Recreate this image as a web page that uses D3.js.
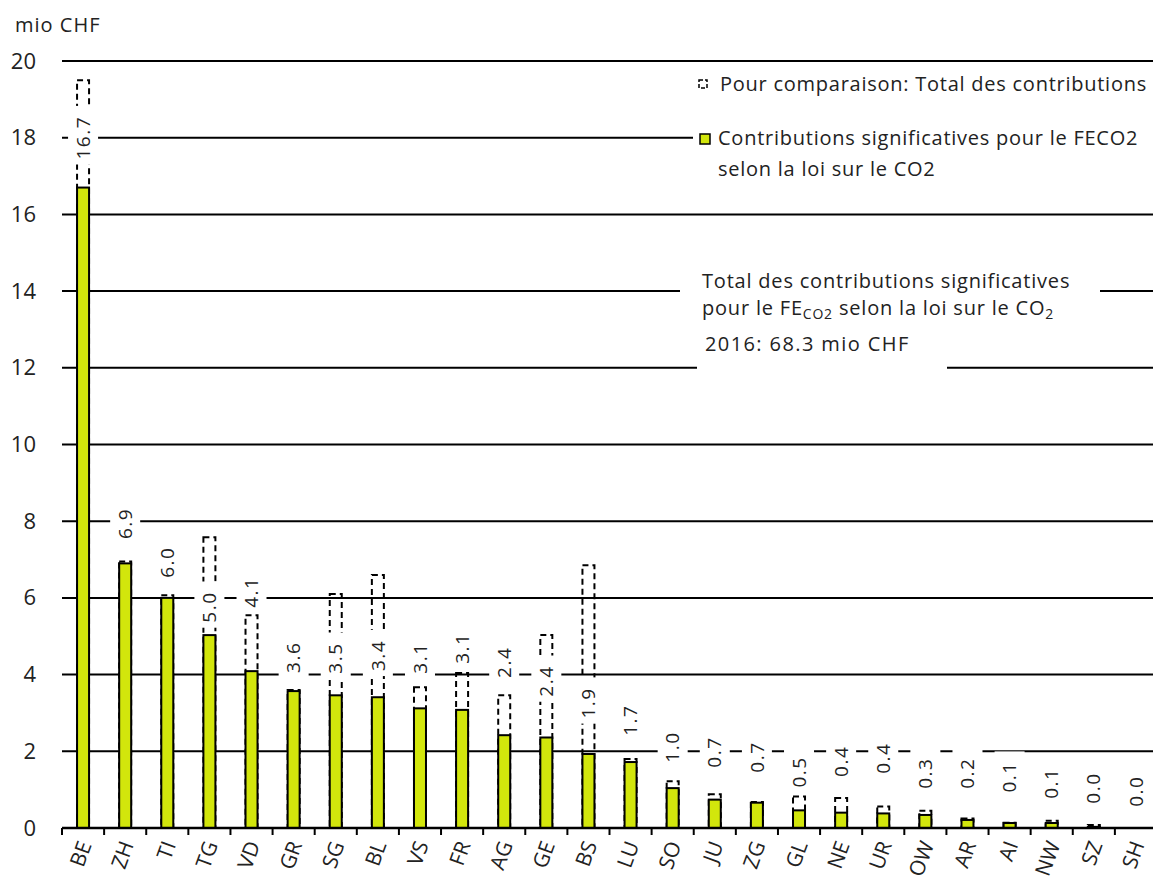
<!DOCTYPE html>
<html><head><meta charset="utf-8">
<script src="https://cdn.jsdelivr.net/npm/d3@7"></script>
<style>
html,body{margin:0;padding:0;background:#fff;}
text{font-family:"Open Sans","Noto Sans",sans-serif;fill:#222;}
</style></head>
<body><svg id="c" width="1153" height="882"></svg>
<script>
const cantons = ["BE","ZH","TI","TG","VD","GR","SG","BL","VS","FR","AG","GE","BS","LU","SO","JU","ZG","GL","NE","UR","OW","AR","AI","NW","SZ","SH"];
const significant = [16.7,6.9,6.0,5.03,4.09,3.57,3.46,3.41,3.12,3.08,2.42,2.36,1.93,1.72,1.04,0.74,0.66,0.46,0.40,0.38,0.34,0.21,0.13,0.13,0.03,0];
const totals = [19.5,6.95,6.07,7.58,5.55,3.6,6.1,6.6,3.67,4.04,3.46,5.03,6.85,1.8,1.22,0.88,0.68,0.82,0.78,0.56,0.45,0.25,0.14,0.19,0.08,0];
const labelAt = [18.0,7.94,6.93,5.76,6.15,4.45,4.43,4.5,4.43,4.69,4.32,3.83,3.26,2.81,2.11,1.98,1.85,1.46,1.74,1.82,1.43,1.43,1.33,1.17,1.04,0.96];
const yTicks = [0,2,4,6,8,10,12,14,16,18,20];
const unitLabel = "mio CHF";
const legendItems = ["Pour comparaison: Total des contributions", "Contributions significatives pour le FECO2", "selon la loi sur le CO2"];
const noteLine1 = "Total des contributions significatives";
const noteLine3 = "2016: 68.3 mio CHF";

const svg = d3.select("#c");
const W = 1153;
const x = d3.scaleBand().domain(cantons).range([62, 1157]).padding(0);
const y = d3.scaleLinear().domain([0, 20]).range([828, 61]);
const fmt = d3.format(".1f");
const data = cantons.map((c,i)=>({c, v:significant[i], t:totals[i], l:labelAt[i]}));
const bw = 12;
const cx = c => x(c) + x.bandwidth()/2;

// y-axis label
svg.append("text").attr("x",15).attr("y",32).style("font-size","20px").style("letter-spacing","1px").text(unitLabel);

// y ticks labels
const yAxis = svg.append("g").attr("transform","translate(36,0)")
  .call(d3.axisLeft(y).tickValues(yTicks).tickFormat(d3.format("d")).tickSize(0).tickPadding(0));
yAxis.select(".domain").remove();
yAxis.selectAll("text").style("font-size","22px").style("font-family","'Open Sans',sans-serif").attr("fill","#222");

// gridlines
svg.append("g").selectAll("line").data(yTicks.filter(d=>d>0)).join("line")
  .attr("x1",62).attr("x2",W).attr("y1",d=>y(d)).attr("y2",d=>y(d))
  .attr("stroke","#000").attr("stroke-width",2);

// white boxes for legend and note
svg.append("rect").attr("x",693).attr("y",68).attr("width",W-693).attr("height",122).attr("fill","#fff");
svg.append("rect").attr("x",680).attr("y",262).attr("width",420).attr("height",64).attr("fill","#fff");
svg.append("rect").attr("x",697).attr("y",326).attr("width",250).attr("height",48).attr("fill","#fff");

// dashed total boxes
svg.append("g").selectAll("rect").data(data.filter(d=>d.t>0)).join("rect")
  .attr("x",d=>cx(d.c)-bw/2).attr("width",bw)
  .attr("y",d=>y(d.t)).attr("height",d=>y(0)-y(d.t))
  .attr("fill","none").attr("stroke","#000").attr("stroke-width",2).attr("stroke-dasharray","6,4");

// green bars
svg.append("g").selectAll("rect").data(data.filter(d=>d.v>0)).join("rect")
  .attr("x",d=>cx(d.c)-bw/2).attr("width",bw)
  .attr("y",d=>y(d.v)).attr("height",d=>y(0)-y(d.v))
  .attr("fill","#d2e60c").attr("stroke","#000").attr("stroke-width",2);

// value labels with white background
const lg = svg.append("g");
data.forEach(d=>{
  const g = lg.append("g").attr("transform",`translate(${cx(d.c)},${y(d.l)}) rotate(-90)`);
  const r = g.append("rect");
  const t = g.append("text").attr("text-anchor","middle").attr("dy","0.35em")
    .style("font-size","19px").style("letter-spacing","1.5px").text(fmt(d.v));
  const L = t.node().getComputedTextLength();
  r.attr("x",-L/2-5).attr("width",L+15).attr("y",-15).attr("height",30).attr("fill","#fff");
});

// x axis
svg.append("line").attr("x1",62).attr("x2",W).attr("y1",y(0)).attr("y2",y(0)).attr("stroke","#000").attr("stroke-width",2.5);
svg.append("g").selectAll("line").data(cantons).join("line")
  .attr("x1",d=>x(d)).attr("x2",d=>x(d)).attr("y1",y(0)).attr("y2",y(0)+7)
  .attr("stroke","#000").attr("stroke-width",2);
svg.append("g").selectAll("text").data(cantons).join("text")
  .attr("transform",d=>`translate(${cx(d)+2},${y(0)+14}) rotate(-70)`)
  .attr("text-anchor","end").attr("dy","0.35em")
  .style("font-size","21px").text(d=>d);

// legend
svg.append("rect").attr("x",699).attr("y",80).attr("width",8).attr("height",8)
  .attr("fill","none").attr("stroke","#000").attr("stroke-width",1.5).attr("stroke-dasharray","4,2");
svg.append("rect").attr("x",700).attr("y",134).attr("width",10).attr("height",10)
  .attr("fill","#d2e60c").attr("stroke","#000").attr("stroke-width",1.5);
const legStyle = s => s.style("font-size","20px").style("letter-spacing","0.75px");
svg.append("text").attr("x",720).attr("y",91).call(legStyle).text(legendItems[0]);
svg.append("text").attr("x",718).attr("y",145).call(legStyle).text(legendItems[1]);
svg.append("text").attr("x",718).attr("y",176).call(legStyle).text(legendItems[2]);

// note
svg.append("text").attr("x",702).attr("y",288).style("font-size","20px").style("letter-spacing","0.8px").text(noteLine1);
const n2 = svg.append("text").attr("x",702).attr("y",315).style("font-size","20px").style("letter-spacing","0.8px");
n2.append("tspan").text("pour le FE");
n2.append("tspan").attr("dy",4).style("font-size","14px").text("CO2");
n2.append("tspan").attr("dy",-4).text("  selon la loi sur le CO");
n2.append("tspan").attr("dy",4).style("font-size","14px").text("2");
svg.append("text").attr("x",705).attr("y",351).style("font-size","20px").style("letter-spacing","1.4px").text(noteLine3);
</script></body></html>
